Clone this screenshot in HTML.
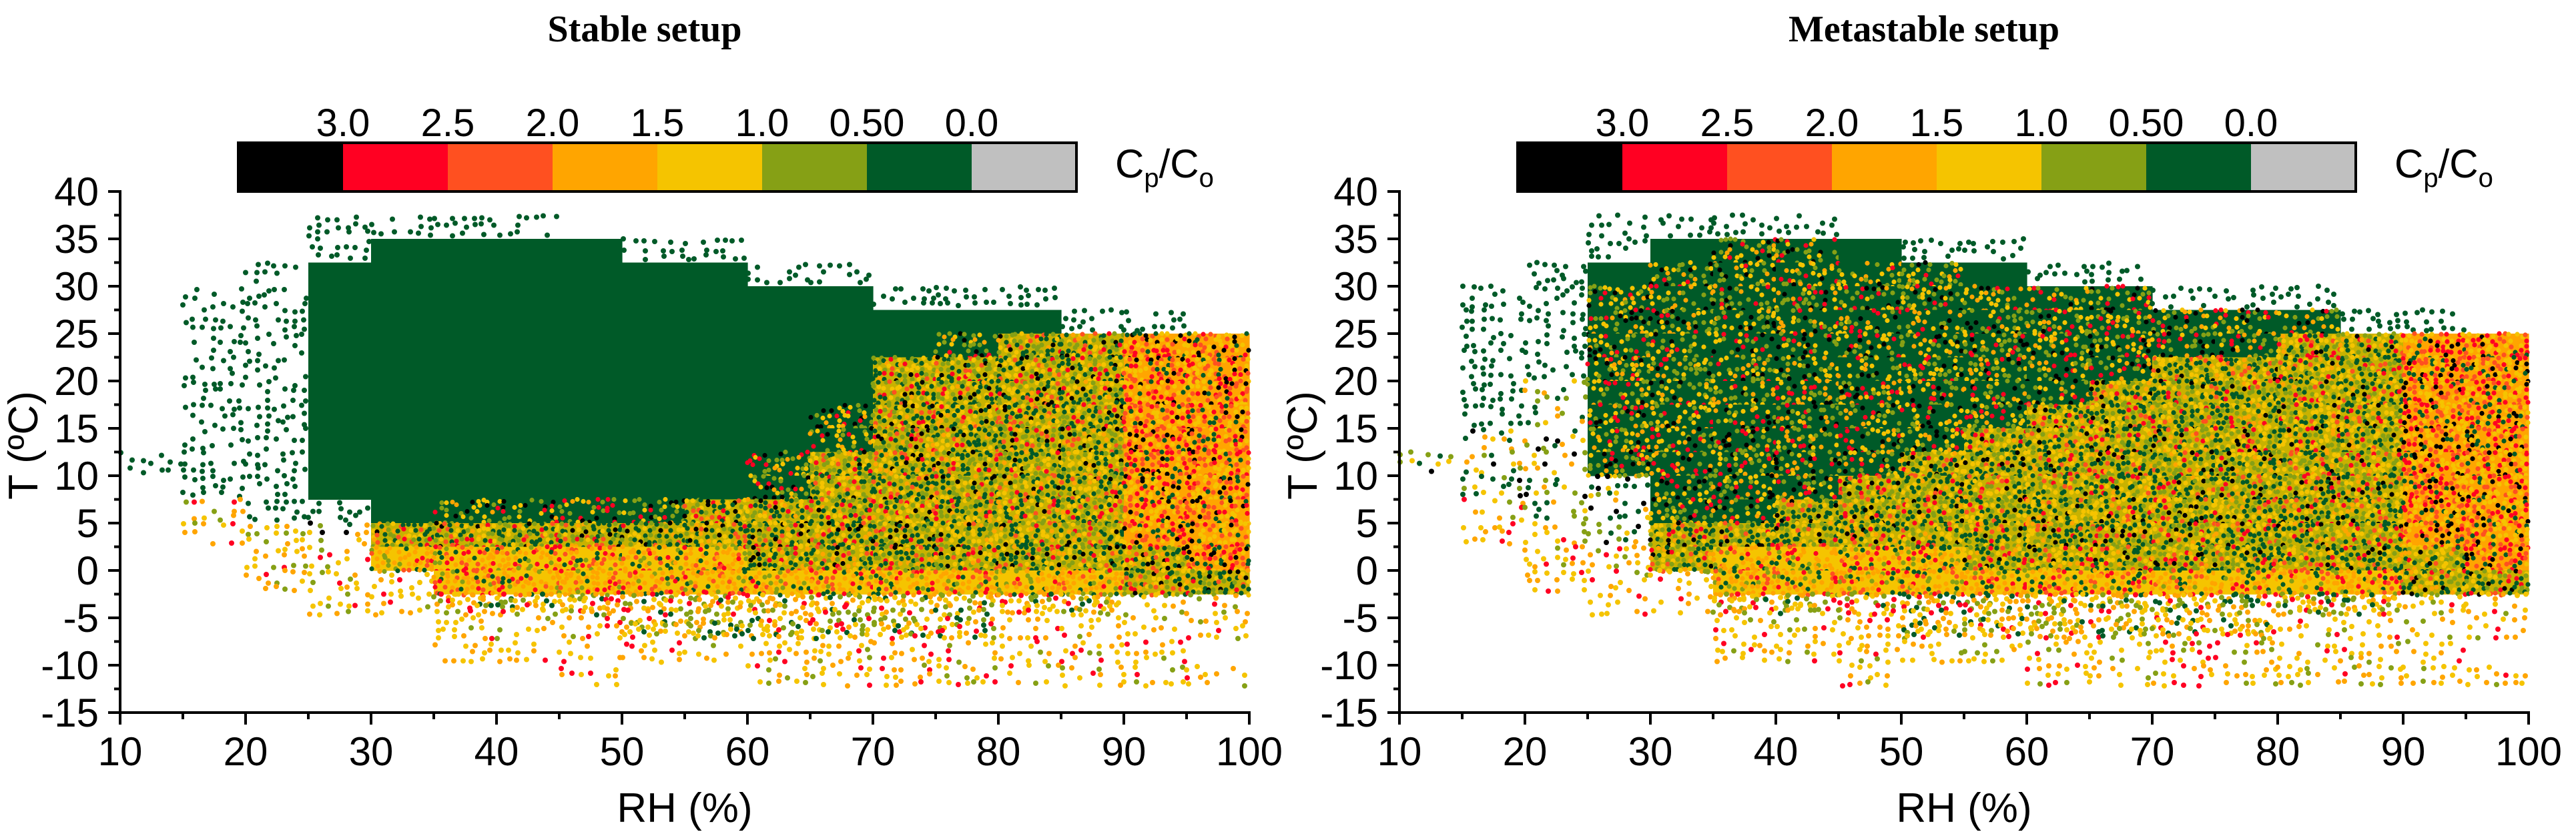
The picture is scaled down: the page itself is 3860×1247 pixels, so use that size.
<!DOCTYPE html>
<html><head><meta charset="utf-8">
<style>
html,body{margin:0;padding:0;background:#fff;}
svg{display:block;}
text{font-family:"Liberation Sans",Arial,sans-serif;fill:#000;}
</style></head>
<body>
<svg id="chart" width="3860" height="1247" viewBox="0 0 3860 1247" xmlns="http://www.w3.org/2000/svg"></svg>
<script>
// ---- data ----
const cbLabels = ["3.0","2.5","2.0","1.5","1.0","0.50","0.0"];
const cbColors = ["#000000","#ff0022","#ff5020","#ffa500","#f5c400","#86a015","#005a28","#c0c0c0"];
const xTicks = [10,20,30,40,50,60,70,80,90,100];
const yTicks = [40,35,30,25,20,15,10,5,0,-5,-10,-15];
const rhBins = [10,15,20,25,30,35,40,45,50,55,60,65,70,75,80,85,90,95];
const tBins = [40,37.5,35,32.5,30,27.5,25,22.5,20,17.5,15,12.5,10,7.5,5,2.5,0,-2.5,-5,-7.5,-10,-12.5];
const stableGrid = [
"..................",
"...gggg...........",
"...gGGGGgg........",
"..gGGGGGGGgg......",
".ggGGGGGGGGGggg...",
".ggGGGGGGGGGGGGgg.",
".ggGGGGGGGGGGhxxXX",
".ggGGGGGGGGGxxxxXX",
".ggGGGGGGGGGxxxxXX",
".ggGGGGGGGGhxxxxXX",
".ggGGGGGGGGhxxxxXX",
"gggGGGGGGGhxxxxxXX",
".ggGGGGGGGhxxxxxXX",
".yggGhhhhxxxxxxxXX",
".yyzxxxxxxxxxxxxXX",
"..yyYYYYYYxxxxxxxX",
"..yyyYYYYYYYYYYYxx",
"...yymmmmmmmmmmmyy",
".....yyymmmmmmyyyy",
".....yyyyyyyyyyyy.",
".......y..yyyyyyyy",
".................."];
const metaGrid = [
"..................",
"...gggg...........",
"...gGhhGgg........",
"..gGhhhhhGgg......",
".gghhhhhhhhhggg...",
".gghhhhhhhhhhhhgg.",
".gghhhhhhhhhhhxxXX",
".gghhhhhhhhhxxxxXX",
".gzhhhhhhhhxxxxxXX",
".gzhhhhhhhxxxxxxXX",
".zzhhhhhhxxxxxxxXX",
"zzzhhhhhxxxxxxxxXX",
".zzzhhhxxxxxxxxxXX",
".yzzhhxxxxxxxxxxXX",
".yyzxxxxxxxxxxxxXX",
"..yyxYYYYxxxxxxxxX",
"..yyyYYYYYYYYYYYxx",
"...yymmmmmmmmmmmyy",
".....yyymmmmmmyyyy",
".....yyyyyyyyyyyy.",
".......y..yyyyyyyy",
".................."];

// ---- rendering ----
const NS="http://www.w3.org/2000/svg";
const svg=document.getElementById('chart');
function mk(tag,attrs,parent){const e=document.createElementNS(NS,tag);for(const k in attrs)e.setAttribute(k,attrs[k]);(parent||svg).appendChild(e);return e;}
function hsh(a,b,c){let h=(a*374761393+b*668265263+c*2246822519)>>>0;h=((h^(h>>>13))*1274126177)>>>0;return (h^(h>>>16))>>>0;}

const G="#005a28",OL="#86a015",Y="#f5c400",OR="#ffa500",OR2="#ff5020",R="#ff0022",K="#000000";
const styles={
 'G':{base:G,spk:[G],mode:'dense'},
 'h':{base:G,spk:[G,G,G,OL,Y,G,OR,OL,G,G,R,Y,K],mode:'dense'},
 'x':{base:"#c8b200",spk:[G,OL,Y,OR,G,OL,R,Y,K,G,OR2,Y,G,OL],mode:'dense'},
 'X':{base:OR,spk:[R,K,Y,OR2,Y,R,G,OR,Y,OR2],mode:'dense'},
 'Y':{base:Y,spk:[OR,OL,OR2,OR,G,Y,R,Y,OR],mode:'dense'},
 'm':{spk:[Y,OR,Y,OL,G,OR,Y,R,OL],mode:'medium'},
 'y':{spk:[Y,OR,Y,OL,R,OR,Y],mode:'sparse'},
 'g':{spk:[G],mode:'sparse'},
 'z':{spk:[G,Y,OL,G,OR,K],mode:'sparse'}
};

function panel(px0,px1,grid,title,name,seed){
  const yT=287,yB=1068;
  const xs=v=>px0+(v-10)/90*(px1-px0);
  const ys=v=>yT+(40-v)/55*(yB-yT);
  const g=mk('g',{});
  
  
  const t=mk('text',{x:(px0+px1)/2-60,y:62,'text-anchor':'middle','font-size':56,'font-weight':'bold',style:'font-family:"Liberation Serif",serif'},g);
  t.textContent=title;
  
  
  const cells=mk('g',{},g);
  
  
  for(let r=0;r<tBins.length;r++){
    for(let c=0;c<rhBins.length;c++){
      const code=grid[r][c]; if(code==='.')continue;
      const st=styles[code];
      const x0=xs(rhBins[c]),x1=xs(rhBins[c]+5);
      const y0=ys(tBins[r]),y1=ys(tBins[r]-2.5);
      if(st.mode==='dense'){
        const rc=mk('rect',{x:x0,y:y0,width:x1-x0+0.6,height:y1-y0+0.6,fill:st.base},cells);
        
        
        if(st.spk.length<2)continue;
        let k=0;
        for(let yy=y0+3;yy<y1;yy+=8){for(let xx=x0+3;xx<x1;xx+=8){
          k++;
          const hv=hsh(k+seed,r,c);
          const col=st.spk[hv%st.spk.length];
          if(col===st.base)continue;
          mk('circle',{cx:xx+(hv>>>8)%6-3,cy:yy+(hv>>>12)%6-3,r:3.6,fill:col},cells);
        }}
      } else {
        const sx=st.mode==='medium'?9:14, sy=st.mode==='medium'?8:12, skip=st.mode==='medium'?1:2;
        let k=0;
        for(let yy=y0+4;yy<y1;yy+=sy){for(let xx=x0+4;xx<x1;xx+=sx){
          k++;
          const hv=hsh(k+seed,r+50,c);
          if(hv%5<skip)continue;
          const col=st.spk[(hv>>>4)%st.spk.length];
          mk('circle',{cx:xx+(hv>>>8)%8-4,cy:yy+(hv>>>12)%8-4,r:4,fill:col},cells);
        }}
      }
    }
  }
  const ax=mk('g',{stroke:'#000','stroke-width':4,fill:'none'},g);
  
  
  mk('line',{x1:px0,y1:yT-2,x2:px0,y2:yB+2},ax);
  mk('line',{x1:px0-18,y1:yB,x2:px1+2,y2:yB},ax);
  for(let v=-15;v<=40;v+=2.5){
    const major=(v%5===0);
    mk('line',{x1:px0-(major?18:9),y1:ys(v),x2:px0,y2:ys(v)},ax);
  }
  for(let v=10;v<=100;v+=5){
    const major=(v%10===0);
    mk('line',{x1:xs(v),y1:yB,x2:xs(v),y2:yB+(major?18:10)},ax);
  }
  yTicks.forEach(v=>{
    const tl=mk('text',{x:px0-32,y:ys(v)+21,'text-anchor':'end','font-size':60},g);
    tl.textContent=v;
    
    
  });
  xTicks.forEach(v=>{
    const tl=mk('text',{x:xs(v),y:1147,'text-anchor':'middle','font-size':60},g);
    tl.textContent=v;
    
    
  });
  const xt=mk('text',{x:(px0+px1)/2,y:1232,'text-anchor':'middle','font-size':62},g);
  xt.textContent='RH (%)';
  
  
  const ytx=px0-124,yty=(yT+yB)/2-10;
  const yt=mk('text',{x:ytx,y:yty,'text-anchor':'middle','font-size':62,transform:`rotate(-90 ${ytx} ${yty})`},g);
  yt.textContent='T (ºC)';
  
  
  const cbx=px0+177,cbw=157,cby=214,cbh=73;
  const cb=mk('g',{},g);
  
  
  cbColors.forEach((col,i)=>{
    const rr=mk('rect',{x:cbx+i*cbw,y:cby,width:cbw+0.5,height:cbh,fill:col},cb);
    
    
  });
  mk('rect',{x:cbx,y:cby,width:cbw*8,height:cbh,fill:'none',stroke:'#000','stroke-width':4},cb);
  cbLabels.forEach((lab,i)=>{
    const tl=mk('text',{x:cbx+(i+1)*cbw,y:204,'text-anchor':'middle','font-size':58},cb);
    tl.textContent=lab;
    
    
  });
  const ct=mk('text',{x:cbx+cbw*8+58,y:266,'font-size':60},cb);
  ct.innerHTML='C<tspan font-size="40" dy="14">p</tspan><tspan dy="-14">/C</tspan><tspan font-size="40" dy="14">o</tspan>';
  
  
}
panel(180,1872,stableGrid,'Stable setup','stable-panel',11);
panel(2097,3789,metaGrid,'Metastable setup','metastable-panel',777);
</script>
</body></html>
